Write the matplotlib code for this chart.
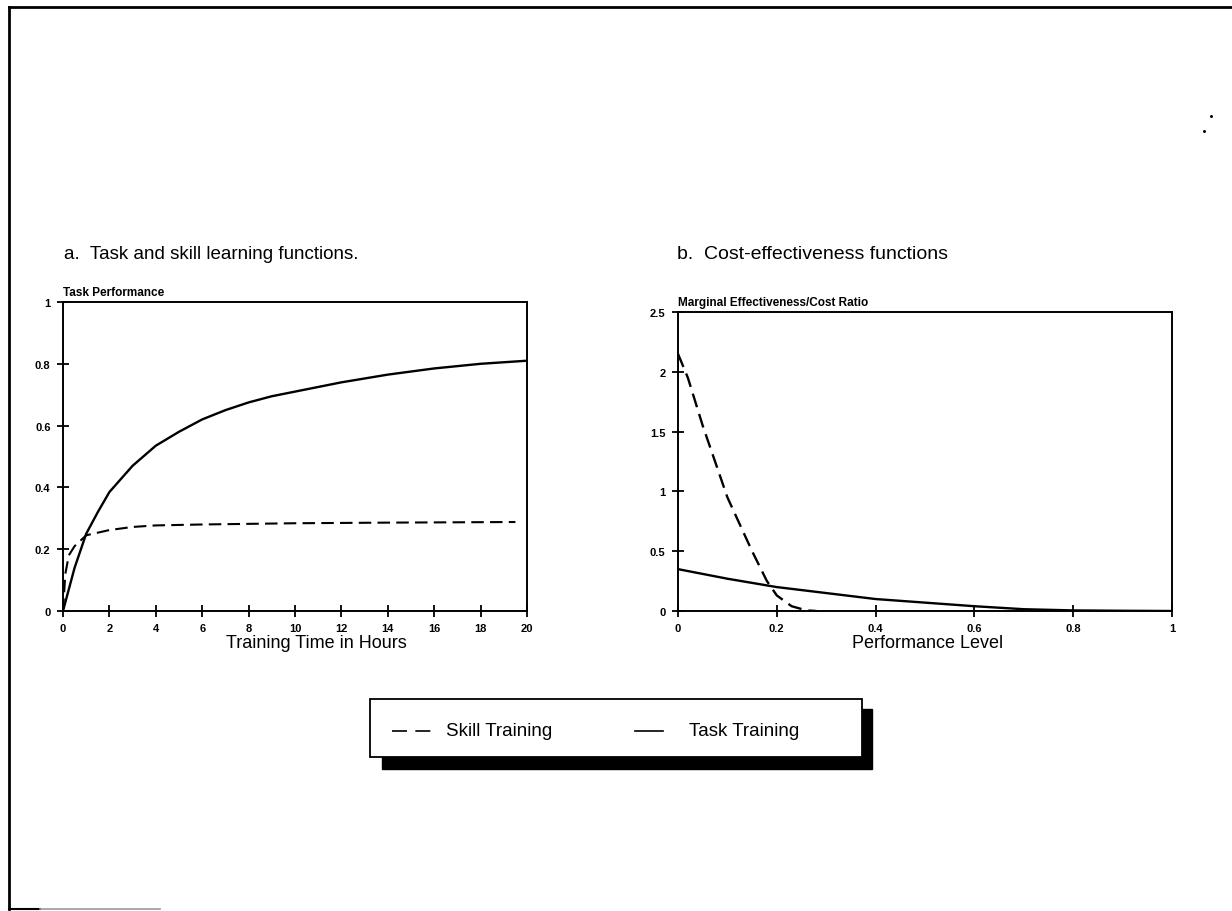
import matplotlib
matplotlib.use("Agg")
import matplotlib.pyplot as plt
from matplotlib.patches import Rectangle
from matplotlib.lines import Line2D

plt.rcParams['font.family'] = ['Liberation Sans', 'DejaVu Sans']

# Panel a: learning functions
hours = [0, 0.5, 1, 1.5, 2, 3, 4, 5, 6, 7, 8, 9, 10, 12, 14, 16, 18, 20]
task_perf = [0, 0.14, 0.25, 0.32, 0.385, 0.47, 0.535, 0.58, 0.62, 0.65, 0.675, 0.695, 0.71, 0.74, 0.765, 0.785, 0.80, 0.81]
skill_hours = [0, 0.1, 0.25, 0.5, 1, 2, 3, 4, 6, 8, 10, 14, 19.5]
skill_perf = [0, 0.12, 0.18, 0.21, 0.245, 0.262, 0.272, 0.277, 0.28, 0.282, 0.284, 0.286, 0.288]

# Panel b: cost-effectiveness functions
level = [0, 0.1, 0.2, 0.3, 0.4, 0.5, 0.6, 0.7, 0.8, 0.9, 1.0]
task_ratio = [0.35, 0.27, 0.2, 0.15, 0.1, 0.07, 0.04, 0.015, 0.005, 0.002, 0]
skill_level = [0, 0.02, 0.05, 0.1, 0.15, 0.18, 0.2, 0.23, 0.26, 0.28]
skill_ratio = [2.15, 1.95, 1.55, 0.95, 0.5, 0.25, 0.13, 0.04, 0.005, 0]

left_xticks = [0, 2, 4, 6, 8, 10, 12, 14, 16, 18, 20]
left_yticks = [0, 0.2, 0.4, 0.6, 0.8, 1]
right_xticks = [0, 0.2, 0.4, 0.6, 0.8, 1]
right_yticks = [0, 0.5, 1, 1.5, 2, 2.5]

W, H = 1232, 912
fig = plt.figure(figsize=(12.32, 9.12), dpi=100)

def fx(px):
    return px / W

def fy(py):
    return 1 - py / H

# outer frame (top, left, partial bottom)
fig.add_artist(Line2D([fx(9), fx(1232)], [fy(8), fy(8)], transform=fig.transFigure,
                      color='black', lw=2.0))
fig.add_artist(Line2D([fx(9), fx(9)], [fy(8), fy(910)], transform=fig.transFigure,
                      color='black', lw=2.0))
fig.add_artist(Line2D([fx(9), fx(40)], [fy(910), fy(910)], transform=fig.transFigure,
                      color='black', lw=1.5))
fig.add_artist(Line2D([fx(40), fx(160)], [fy(910), fy(910)], transform=fig.transFigure,
                      color='#999999', lw=1.2))
fig.add_artist(Line2D([fx(1211), fx(1204)], [fy(117), fy(132)], transform=fig.transFigure,
                      color='black', lw=0, marker='s', markersize=1.0))

dash = (6, 3)

def style(ax, xt, yt, xl, yl, xlab, ylab, ylab_size):
    ax.set_xlim(*xl)
    ax.set_ylim(*yl)
    ax.set_xticks(xt)
    ax.set_yticks(yt)
    ax.set_xticklabels([f"{v:g}" for v in xt], fontsize=8, fontweight='bold')
    ax.set_yticklabels([f"{v:g}" for v in yt], fontsize=8, fontweight='bold')
    ax.tick_params(direction='inout', length=8, width=1.3, pad=5)
    for s in ax.spines.values():
        s.set_linewidth(1.4)
    ax.set_xlabel(xlab, fontsize=13, labelpad=0)
    ax.text(0.0, 1.012, ylab, transform=ax.transAxes, fontsize=ylab_size,
            fontweight='bold', ha='left', va='bottom')

ax1 = fig.add_axes([fx(63), fy(612), fx(527) - fx(63), fy(303) - fy(612)])
ax1.plot(hours, task_perf, color='black', lw=1.7)
ax1.plot(skill_hours, skill_perf, color='black', lw=1.5, dashes=dash)
style(ax1, left_xticks, left_yticks, (0, 20), (0, 1),
      'Training Time in Hours', 'Task Performance', 8.5)
ax1.xaxis.set_label_coords(0.545, -0.075)

ax2 = fig.add_axes([fx(678), fy(612), fx(1172) - fx(678), fy(313) - fy(612)])
ax2.plot(level, task_ratio, color='black', lw=1.7)
ax2.plot(skill_level, skill_ratio, color='black', lw=1.7, dashes=dash)
style(ax2, right_xticks, right_yticks, (0, 1), (0, 2.5),
      'Performance Level', 'Marginal Effectiveness/Cost Ratio', 8.5)
ax2.xaxis.set_label_coords(0.505, -0.078)

fig.text(fx(64), fy(255), 'a.  Task and skill learning functions.', fontsize=13.5,
         ha='left', va='center')
fig.text(fx(677), fy(255), 'b.  Cost-effectiveness functions', fontsize=14,
         ha='left', va='center')

# legend box with shadow
lx0, lx1 = fx(370), fx(862)
ly_top, ly_bot = fy(700), fy(758)
fig.add_artist(Rectangle((fx(382), fy(770)), fx(872) - fx(382), fy(710) - fy(770),
                         transform=fig.transFigure, fc='black', ec='black'))
fig.add_artist(Rectangle((lx0, ly_bot), lx1 - lx0, ly_top - ly_bot,
                         transform=fig.transFigure, fc='white', ec='black', lw=1.3))
ymid = fy(732)
fig.add_artist(Line2D([fx(392), fx(431)], [ymid, ymid], transform=fig.transFigure,
                      color='black', lw=1.2, dashes=(9, 5)))
fig.text(fx(446), ymid, 'Skill Training', fontsize=13.5, ha='left', va='center')
fig.add_artist(Line2D([fx(635), fx(663)], [ymid, ymid], transform=fig.transFigure,
                      color='black', lw=1.2))
fig.text(fx(689), ymid, 'Task Training', fontsize=13.5, ha='left', va='center')

fig.savefig('out.png', dpi=100)
